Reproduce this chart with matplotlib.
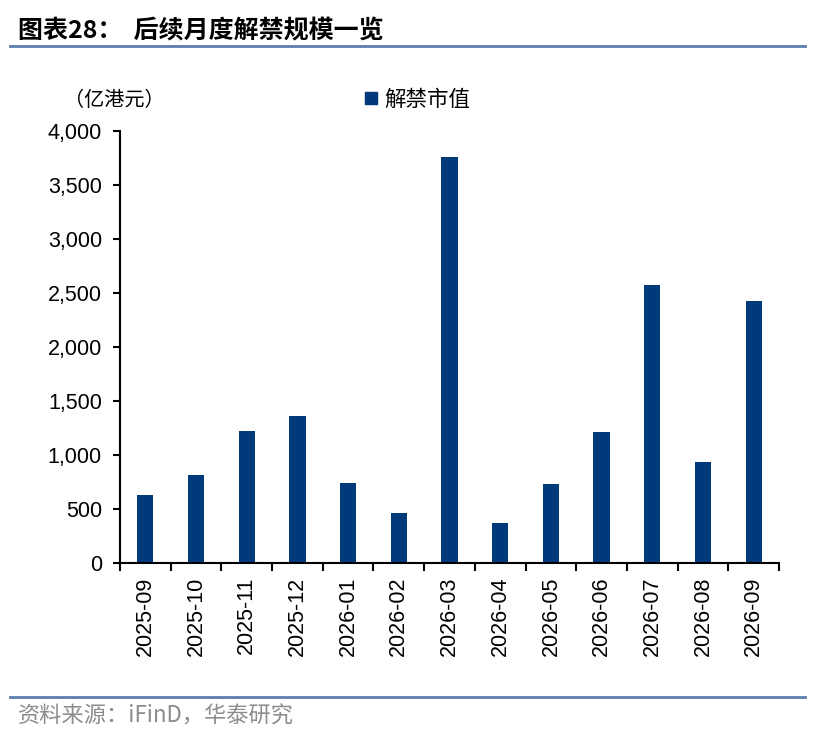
import numpy as np
import matplotlib.pyplot as plt
from matplotlib.lines import Line2D
from matplotlib.ticker import FuncFormatter, FixedLocator

plt.rcParams['font.family'] = ['Liberation Sans', 'Noto Sans CJK SC', 'DejaVu Sans']

months = ["2025-09", "2025-10", "2025-11", "2025-12", "2026-01", "2026-02", "2026-03",
          "2026-04", "2026-05", "2026-06", "2026-07", "2026-08", "2026-09"]
values = [630, 815, 1222, 1361, 745, 467, 3763, 370, 731, 1211, 2574, 932, 2423]

bar_color = "#013A7A"
line_color = "#5B7DB0"
cjk = ['Noto Sans CJK SC', 'DejaVu Sans']

fig = plt.figure(figsize=(8.13, 7.39), dpi=100)
ax = fig.add_axes([120 / 813, 1 - 563 / 739, 659 / 813, 432 / 739])

x = np.arange(len(months))
ax.bar(x, values, width=0.32, color=bar_color, zorder=2)

ax.set_xlim(-0.5, len(months) - 0.5)
ax.set_ylim(0, 4000)
ax.set_yticks(np.arange(0, 4001, 500))
ax.yaxis.set_major_formatter(FuncFormatter(lambda v, p: f"{int(v):,}"))

ax.set_xticks(x)
ax.set_xticklabels(months, rotation=90)
ax.xaxis.set_minor_locator(FixedLocator(np.arange(-0.5, len(months), 1.0)))
ax.tick_params(axis='x', which='major', length=0, pad=10, labelsize=15.5)
ax.tick_params(axis='x', which='minor', length=6, width=1.5, direction='out')
ax.tick_params(axis='y', length=5, width=1.5, direction='out', labelsize=15.5, pad=8)

for s in ['top', 'right']:
    ax.spines[s].set_visible(False)
for s in ['left', 'bottom']:
    ax.spines[s].set_linewidth(1.5)

# 标题与横线
fig.text(18 / 813, 1 - 31 / 739, "图表28：  后续月度解禁规模一览", fontsize=18,
         fontweight='bold', family=cjk, va='center', ha='left')
fig.add_artist(Line2D([10 / 813, 805 / 813], [1 - 46 / 739, 1 - 46 / 739],
                      color=line_color, linewidth=2))

# 单位
fig.text(64 / 813, 1 - 100 / 739, "（亿港元）", fontsize=14.5, family=cjk,
         va='center', ha='left')

# 图例
handle = Line2D([], [], marker='s', linestyle='none', color=bar_color, markersize=9)
fig.legend([handle], ["解禁市值"], loc='center left',
           bbox_to_anchor=(358 / 813, 1 - 100 / 739), frameon=False,
           prop={'family': cjk, 'size': 15.5}, handletextpad=0.0,
           handlelength=1.2, borderaxespad=0, borderpad=0)

# 底部来源
fig.add_artist(Line2D([10 / 813, 805 / 813], [1 - 697 / 739, 1 - 697 / 739],
                      color=line_color, linewidth=2))
fig.text(18 / 813, 1 - 716 / 739, "资料来源：iFinD，华泰研究", fontsize=16,
         family=cjk, color='#8C8C8C', va='center', ha='left')

fig.savefig("out.png", dpi=100)
